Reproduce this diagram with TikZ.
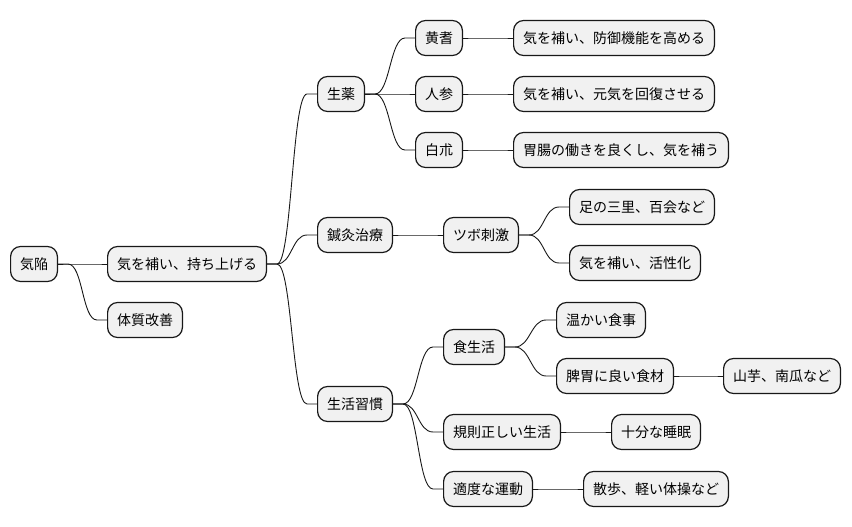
\documentclass[tikz,border=0pt]{standalone}
\usepackage{fontspec}
\setmainfont{Noto Sans CJK JP}
\usetikzlibrary{calc}
\definecolor{boxfill}{HTML}{F1F1F1}
\definecolor{boxline}{HTML}{181818}
\tikzset{
  mm/.style={draw=boxline, fill=boxfill, line width=1.2pt, rounded corners=10pt,
    minimum height=35pt, inner xsep=9.4pt, inner ysep=0pt, anchor=west,
    font=\fontsize{14pt}{16pt}\selectfont, text=black},
  conn/.style={draw=boxline, line width=0.9pt},
}
\newcommand{\linkto}[2]{%
  \draw[conn] (#1.east) -- ++(10,0) .. controls +(15,0) and +(-15,0) .. ($(#2.west)+(-10,0)$) -- (#2.west);}
\begin{document}
\begin{tikzpicture}[x=1pt,y=-1pt]
\useasboundingbox (0,0) rectangle (852,527);
\node[mm] (a) at (10,264) {気陥};
\node[mm] (b) at (107,264) {気を補い、持ち上げる};
\node[mm] (c) at (107,320) {体質改善};
\node[mm] (d) at (317,94) {生薬};
\node[mm] (e) at (317,235) {鍼灸治療};
\node[mm] (f) at (317,404) {生活習慣};
\node[mm] (g) at (415,38) {黄耆};
\node[mm] (h) at (415,94) {人参};
\node[mm] (i) at (415,150) {白朮};
\node[mm] (gg) at (513,38) {気を補い、防御機能を高める};
\node[mm] (hh) at (513,94) {気を補い、元気を回復させる};
\node[mm] (ii) at (513,150) {胃腸の働きを良くし、気を補う};
\node[mm] (j) at (443,235) {ツボ刺激};
\node[mm] (k) at (569,207) {足の三里、百会など};
\node[mm] (l) at (569,263) {気を補い、活性化};
\node[mm] (m) at (443,347) {食生活};
\node[mm] (n) at (443,432) {規則正しい生活};
\node[mm] (o) at (443,489) {適度な運動};
\node[mm] (p) at (556,320) {温かい食事};
\node[mm] (q) at (556,376) {脾胃に良い食材};
\node[mm] (r) at (723,376) {山芋、南瓜など};
\node[mm] (s) at (611,432) {十分な睡眠};
\node[mm] (t) at (583,489) {散歩、軽い体操など};
\linkto{a}{b}
\linkto{a}{c}
\linkto{b}{d}
\linkto{b}{e}
\linkto{b}{f}
\linkto{d}{g}
\linkto{d}{h}
\linkto{d}{i}
\linkto{g}{gg}
\linkto{h}{hh}
\linkto{i}{ii}
\linkto{e}{j}
\linkto{j}{k}
\linkto{j}{l}
\linkto{f}{m}
\linkto{f}{n}
\linkto{f}{o}
\linkto{m}{p}
\linkto{m}{q}
\linkto{q}{r}
\linkto{n}{s}
\linkto{o}{t}
\end{tikzpicture}
\end{document}
